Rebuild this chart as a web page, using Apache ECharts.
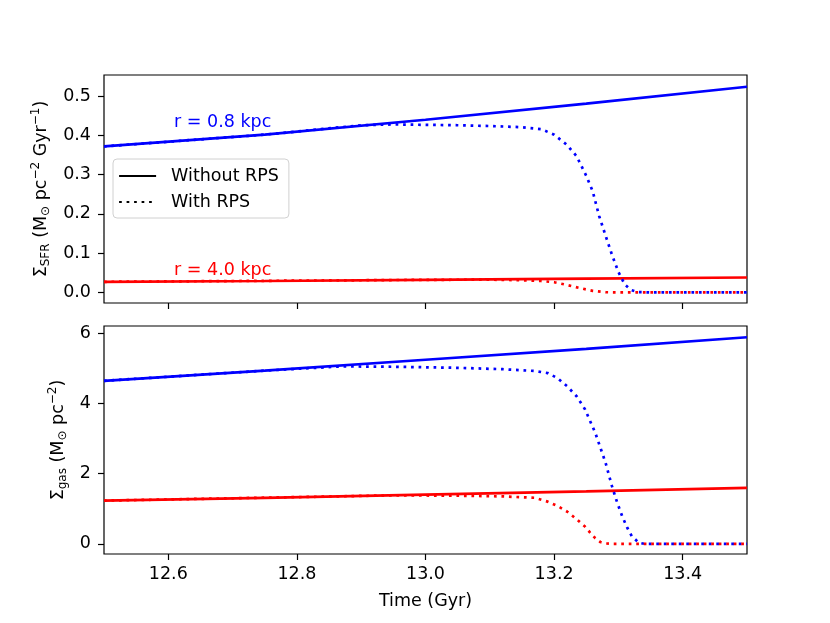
<!DOCTYPE html>
<html lang="en">
<head>
    <meta charset="UTF-8">
    <title>Sigma SFR / gas</title>
    <script src="https://cdn.jsdelivr.net/npm/echarts@6/dist/echarts.min.js"></script>
</head>
<style>
    body{ margin:0; background:#fff; }
    #chart{ width:830px; height:623px; }
</style>
<body>
    <div id="chart"></div>
    <script>
        // x ticks (Gyr)
        var timeTicks=[12.6,12.8,13.0,13.2,13.4];
        var sfrTicks=[0,0.1,0.2,0.3,0.4,0.5];
        var gasTicks=[0,2,4,6];

        // solid lines (without RPS)
        var tSolid=[12.5,12.75,13.0,13.25,13.5];
        var sfrInnerSolid=[0.372,0.402,0.440,0.481,0.524];
        var sfrOuterSolid=[0.027,0.029,0.032,0.035,0.038];
        var gasInnerSolid=[4.64,4.93,5.24,5.55,5.88];
        var gasOuterSolid=[1.23,1.31,1.40,1.49,1.59];

        // dotted lines (with RPS)
        var tSfrInner=[12.5,12.75,12.9,12.95,13.0,13.05,13.1,13.15,13.18,13.2,13.22,13.235,13.25,13.26,13.27,13.28,13.29,13.3,13.31,13.32,13.33,13.35,13.5];
        var sfrInnerRps=[0.372,0.402,0.426,0.428,0.427,0.426,0.424,0.421,0.416,0.402,0.376,0.347,0.297,0.258,0.195,0.145,0.096,0.052,0.020,0.006,0.001,0,0];
        var tSfrOuter=[12.5,13.0,13.1,13.15,13.18,13.2,13.22,13.24,13.26,13.28,13.3,13.5];
        var sfrOuterRps=[0.027,0.032,0.0325,0.031,0.029,0.026,0.019,0.011,0.004,0.0005,0,0];
        var tGasInner=[12.5,12.75,12.87,12.95,13.05,13.12,13.17,13.19,13.205,13.22,13.235,13.248,13.264,13.28,13.29,13.298,13.306,13.314,13.321,13.332,13.34,13.5];
        var gasInnerRps=[4.64,4.93,5.05,5.04,5.01,4.97,4.92,4.86,4.72,4.49,4.20,3.83,3.16,2.31,1.64,1.18,0.78,0.45,0.21,0.03,0,0];
        var tGasOuter=[12.5,12.95,13.05,13.12,13.17,13.19,13.205,13.22,13.235,13.248,13.256,13.264,13.272,13.28,13.29,13.5];
        var gasOuterRps=[1.23,1.38,1.37,1.35,1.31,1.20,1.08,0.92,0.70,0.49,0.32,0.16,0.05,0.01,0,0];

        function pairs(xs,ys){
            var res=[];
            for(var i=0;i<xs.length;i++) res.push([xs[i],ys[i]]);
            return res;
        }

        var font='DejaVu Sans';
        var fs=17.5;
        var dots=[2.7,4.8];
        var richName={
            n:{fontSize:fs,fontFamily:font,color:'#000'},
            sub:{fontSize:12,fontFamily:font,color:'#000',padding:[10,0,0,0]},
            sup:{fontSize:12,fontFamily:font,color:'#000',padding:[0,0,11,0]}
        };

        function xAxisOpt(idx,showLabels){
            return {
                type:'value',gridIndex:idx,min:12.5,max:13.5,
                splitLine:{show:false},
                axisLine:{show:false,onZero:false},
                axisTick:{show:true,inside:false,length:6,customValues:timeTicks,lineStyle:{color:'#000',width:1.2}},
                axisLabel:{show:showLabels,customValues:timeTicks,color:'#000',fontSize:fs,fontFamily:font,margin:11,
                    formatter:function(v){return v.toFixed(1);}},
                name:showLabels?'Time (Gyr)':'',
                nameLocation:'middle',nameGap:38,
                nameTextStyle:{color:'#000',fontSize:fs,fontFamily:font}
            };
        }
        function yAxisOpt(idx,min,max,ticks,digits,name,gap){
            return {
                type:'value',gridIndex:idx,min:min,max:max,
                splitLine:{show:false},
                axisLine:{show:false,onZero:false},
                axisTick:{show:true,inside:false,length:6,customValues:ticks,lineStyle:{color:'#000',width:1.2}},
                axisLabel:{customValues:ticks,color:'#000',fontSize:fs,fontFamily:font,margin:13,
                    formatter:function(v){return v.toFixed(digits);}},
                name:name,nameLocation:'middle',nameGap:gap,
                nameTextStyle:{rich:richName}
            };
        }
        function line(name,x,y,data,color,dotted,z){
            return {
                name:name,type:'line',xAxisIndex:x,yAxisIndex:y,data:data,
                showSymbol:false,symbol:'none',symbolSize:0,animation:false,z:z,
                lineStyle:{color:color,width:2.7,type:dotted?dots:'solid',cap:'butt'},
                itemStyle:{color:color}
            };
        }

        var chart=echarts.init(document.getElementById('chart'));
        chart.setOption({
            animation:false,
            grid:[
                {left:104,right:83,top:75,height:228,show:true,borderColor:'#000',borderWidth:1.2,backgroundColor:'transparent'},
                {left:104,right:83,top:326,height:228,show:true,borderColor:'#000',borderWidth:1.2,backgroundColor:'transparent'}
            ],
            legend:{
                orient:'vertical',left:113,top:159,
                data:['Without RPS','With RPS'],
                itemWidth:37,itemHeight:14,itemGap:8,
                padding:[8,10,7,5],
                borderColor:'#d0d0d0',borderWidth:1,borderRadius:4,
                backgroundColor:'rgba(255,255,255,0.8)',
                itemStyle:{opacity:0},
                lineStyle:{width:2.2},
                textStyle:{color:'#000',fontSize:fs,fontFamily:font,padding:[0,0,0,10]},
                selectedMode:false
            },
            xAxis:[xAxisOpt(0,false),xAxisOpt(1,true)],
            yAxis:[
                yAxisOpt(0,-0.027,0.554,sfrTicks,1,'{n|Σ}{sub|SFR}{n| (M}{sub|⊙}{n| pc}{sup|−2}{n| Gyr}{sup|−1}{n|)}',44),
                yAxisOpt(1,-0.29,6.2,gasTicks,0,'{n|Σ}{sub|gas}{n| (M}{sub|⊙}{n| pc}{sup|−2}{n|)}',33)
            ],
            series:[
                line('Without RPS',0,0,[],'#000',false,1),
                line('With RPS',0,0,[],'#000',true,1),
                line('inner SFR',0,0,pairs(tSolid,sfrInnerSolid),'#0000ff',false,2),
                line('outer SFR',0,0,pairs(tSolid,sfrOuterSolid),'#ff0000',false,2),
                line('inner SFR RPS',0,0,pairs(tSfrInner,sfrInnerRps),'#0000ff',true,3),
                line('outer SFR RPS',0,0,pairs(tSfrOuter,sfrOuterRps),'#ff0000',true,3),
                line('inner gas',1,1,pairs(tSolid,gasInnerSolid),'#0000ff',false,2),
                line('outer gas',1,1,pairs(tSolid,gasOuterSolid),'#ff0000',false,2),
                line('inner gas RPS',1,1,pairs(tGasInner,gasInnerRps),'#0000ff',true,3),
                line('outer gas RPS',1,1,pairs(tGasOuter,gasOuterRps),'#ff0000',true,3)
            ]
        });

        // radius labels placed at data coordinates in the top panel
        var p1=chart.convertToPixel({xAxisIndex:0,yAxisIndex:0},[12.609,0.433]);
        var p2=chart.convertToPixel({xAxisIndex:0,yAxisIndex:0},[12.609,0.057]);
        chart.setOption({
            graphic:[
                {type:'text',x:p1[0],y:p1[1],style:{text:'r = 0.8 kpc',fill:'#0000ff',font:fs+'px "DejaVu Sans"',verticalAlign:'middle'}},
                {type:'text',x:p2[0],y:p2[1],style:{text:'r = 4.0 kpc',fill:'#ff0000',font:fs+'px "DejaVu Sans"',verticalAlign:'middle'}}
            ]
        });
    </script>
</body>
</html>
